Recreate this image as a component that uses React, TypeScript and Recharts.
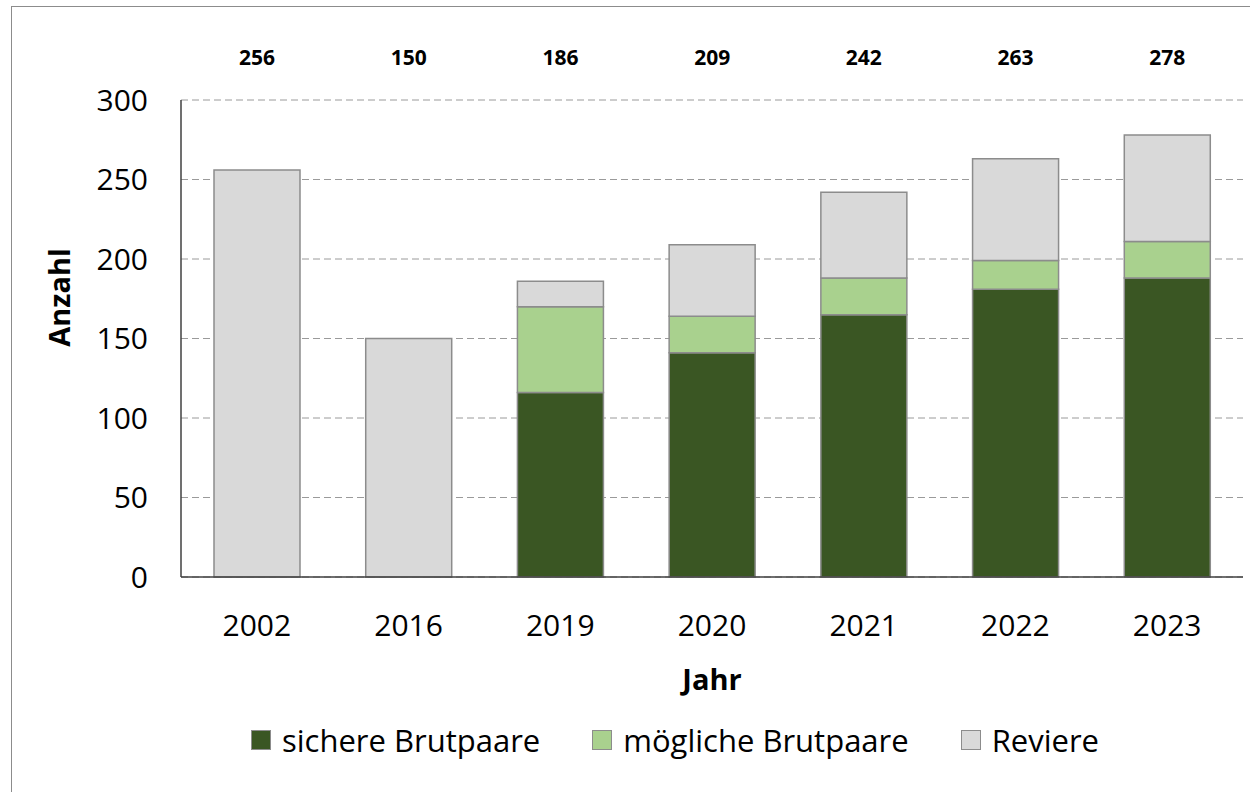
import React from 'react';
import {
  BarChart,
  Bar,
  XAxis,
  YAxis,
  CartesianGrid,
  Legend,
  LabelList,
} from 'recharts';

const years = ['2002', '2016', '2019', '2020', '2021', '2022', '2023'];
const sichere = [0, 0, 116, 141, 165, 181, 188];
const moegliche = [0, 0, 54, 23, 23, 18, 23];
const reviere = [256, 150, 16, 45, 54, 64, 67];
const totals = [256, 150, 186, 209, 242, 263, 278];
const yTicks = [0, 50, 100, 150, 200, 250, 300];

const FONT = '"Open Sans", sans-serif';
const EDGE = '#8c8c8c';

const series = [
  { key: 'sichere', name: 'sichere Brutpaare', color: '#3a5623' },
  { key: 'moegliche', name: 'mögliche Brutpaare', color: '#a9d18e' },
  { key: 'reviere', name: 'Reviere', color: '#d9d9d9' },
];

const data = years.map((year, i) => ({
  year,
  sichere: sichere[i],
  moegliche: moegliche[i],
  reviere: reviere[i],
  total: totals[i],
}));

// totals sit in one row above the plot, not on the bars
const TotalLabel = (props: any) => {
  const { x, width, value } = props;
  return (
    <text
      x={Number(x) + Number(width) / 2}
      y={65}
      textAnchor="middle"
      fontFamily={FONT}
      fontWeight="bold"
      fontSize={21}
      fill="#000"
    >
      {value}
    </text>
  );
};

const LegendContent = () => (
  <div
    style={{
      display: 'flex',
      justifyContent: 'center',
      alignItems: 'center',
      height: 44,
      paddingLeft: 107,
      fontFamily: FONT,
      fontSize: 31,
      color: '#000',
    }}
  >
    {series.map((s, i) => (
      <div
        key={s.key}
        style={{
          display: 'flex',
          alignItems: 'center',
          marginLeft: i === 0 ? 0 : 52,
        }}
      >
        <span
          style={{
            display: 'inline-block',
            width: 18,
            height: 18,
            background: s.color,
            border: `1px solid ${EDGE}`,
            marginRight: 11,
          }}
        />
        {s.name}
      </div>
    ))}
  </div>
);

export default function App() {
  return (
    <div
      style={{
        position: 'absolute',
        left: 0,
        top: 0,
        width: 1250,
        height: 792,
        overflow: 'hidden',
        background: '#fff',
      }}
    >
      <div
        style={{
          position: 'absolute',
          left: 11,
          top: 6,
          width: 1270,
          height: 820,
          border: `1px solid ${EDGE}`,
        }}
      />
      <div style={{ position: 'absolute', left: 0, top: 0 }}>
        <BarChart
          width={1250}
          height={792}
          data={data}
          margin={{ top: 100, right: 7, bottom: 30, left: 0 }}
        >
          <CartesianGrid
            vertical={false}
            stroke="#9a9a9a"
            strokeDasharray="7 4"
          />
          <XAxis
            dataKey="year"
            height={141}
            axisLine={{ stroke: '#404040', strokeWidth: 1.5 }}
            tickLine={false}
            tickMargin={32}
            tick={{ fill: '#000', fontFamily: FONT, fontSize: 30 }}
            label={{
              value: 'Jahr',
              position: 'insideTop',
              offset: 92,
              fill: '#000',
              fontFamily: FONT,
              fontWeight: 'bold',
              fontSize: 29,
            }}
          />
          <YAxis
            width={181}
            domain={[0, 300]}
            ticks={yTicks}
            interval={0}
            axisLine={{ stroke: '#404040', strokeWidth: 1.5 }}
            tickLine={false}
            tickMargin={27}
            tick={{ fill: '#000', fontFamily: FONT, fontSize: 30 }}
            label={{
              value: 'Anzahl',
              angle: -90,
              position: 'center',
              dx: -31,
              dy: -41,
              fill: '#000',
              fontFamily: FONT,
              fontWeight: 'bold',
              fontSize: 29,
            }}
          />
          <Legend verticalAlign="bottom" content={<LegendContent />} />
          {series.map((s) => (
            <Bar
              key={s.key}
              dataKey={s.key}
              name={s.name}
              stackId="a"
              fill={s.color}
              stroke={EDGE}
              strokeWidth={1.5}
              barSize={86}
              isAnimationActive={false}
            >
              {s.key === 'reviere' && (
                <LabelList dataKey="total" content={<TotalLabel />} />
              )}
            </Bar>
          ))}
        </BarChart>
      </div>
    </div>
  );
}
